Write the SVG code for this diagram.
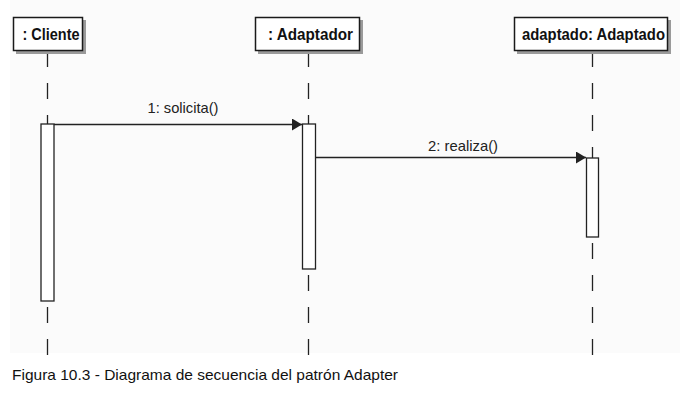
<svg xmlns="http://www.w3.org/2000/svg" width="690" height="407" viewBox="0 0 690 407">
<style>
.box{fill:#fff;stroke:#1a1a1a;stroke-width:1.5}
.shadow{fill:#9a9a9a}
.name{font-family:"Liberation Sans",Arial,sans-serif;font-weight:bold;font-size:16px;fill:#111}
.life{stroke:#222;stroke-width:1.3;stroke-dasharray:16 16;fill:none}
.act{fill:#fff;stroke:#222;stroke-width:1.3}
.msg{stroke:#222;stroke-width:1.3;fill:none}
.lbl{font-family:"Liberation Sans",Arial,sans-serif;font-size:15px;fill:#222}
.cap{font-family:"Liberation Sans",Arial,sans-serif;font-size:15px;fill:#111}
</style>
<defs>
<marker id="arr" markerWidth="11" markerHeight="12" refX="10" refY="6" orient="auto" markerUnits="userSpaceOnUse">
<path d="M0,0 L10,6 L0,12 Z" fill="#222"/>
</marker>
</defs>
<rect x="0" y="0" width="690" height="407" fill="#fff"/>
<rect x="10" y="0" width="670" height="353" fill="#fbfbfb"/>
<g id="lifelines">
<line class="life" x1="47.5" y1="51" x2="47.5" y2="355"/>
<line class="life" x1="308.5" y1="51" x2="308.5" y2="355"/>
<line class="life" x1="592.5" y1="51" x2="592.5" y2="355"/>
</g>
<g id="cliente">
<rect class="shadow" x="16" y="20" width="70" height="34"/>
<rect class="box" x="13.5" y="17.5" width="69" height="33"/>
<text class="name" x="51" y="40" text-anchor="middle" textLength="57" lengthAdjust="spacingAndGlyphs">: Cliente</text>
<rect class="act" x="41" y="124" width="13" height="177"/>
</g>
<g id="adaptador">
<rect class="shadow" x="258" y="20" width="105" height="34"/>
<rect class="box" x="255.5" y="17.5" width="104" height="33"/>
<text class="name" x="310.5" y="40" text-anchor="middle" textLength="85" lengthAdjust="spacingAndGlyphs">: Adaptador</text>
<rect class="act" x="302.5" y="124" width="13" height="145"/>
</g>
<g id="adaptado">
<rect class="shadow" x="517" y="20" width="154" height="34"/>
<rect class="box" x="514.5" y="17.5" width="153" height="33"/>
<text class="name" x="593.5" y="40" text-anchor="middle" textLength="143" lengthAdjust="spacingAndGlyphs">adaptado: Adaptado</text>
<rect class="act" x="586.5" y="158" width="12" height="79"/>
</g>
<g id="connectors">
<line class="msg" x1="54" y1="124.5" x2="302" y2="124.5" marker-end="url(#arr)"/>
<text class="lbl" x="183" y="113" text-anchor="middle" textLength="71" lengthAdjust="spacingAndGlyphs">1: solicita()</text>
<line class="msg" x1="316" y1="157.5" x2="586" y2="157.5" marker-end="url(#arr)"/>
<text class="lbl" x="463" y="150.5" text-anchor="middle" textLength="70" lengthAdjust="spacingAndGlyphs">2: realiza()</text>
</g>
<text class="cap" x="12" y="380" textLength="386" lengthAdjust="spacingAndGlyphs">Figura 10.3 - Diagrama de secuencia del patrón Adapter</text>
</svg>
